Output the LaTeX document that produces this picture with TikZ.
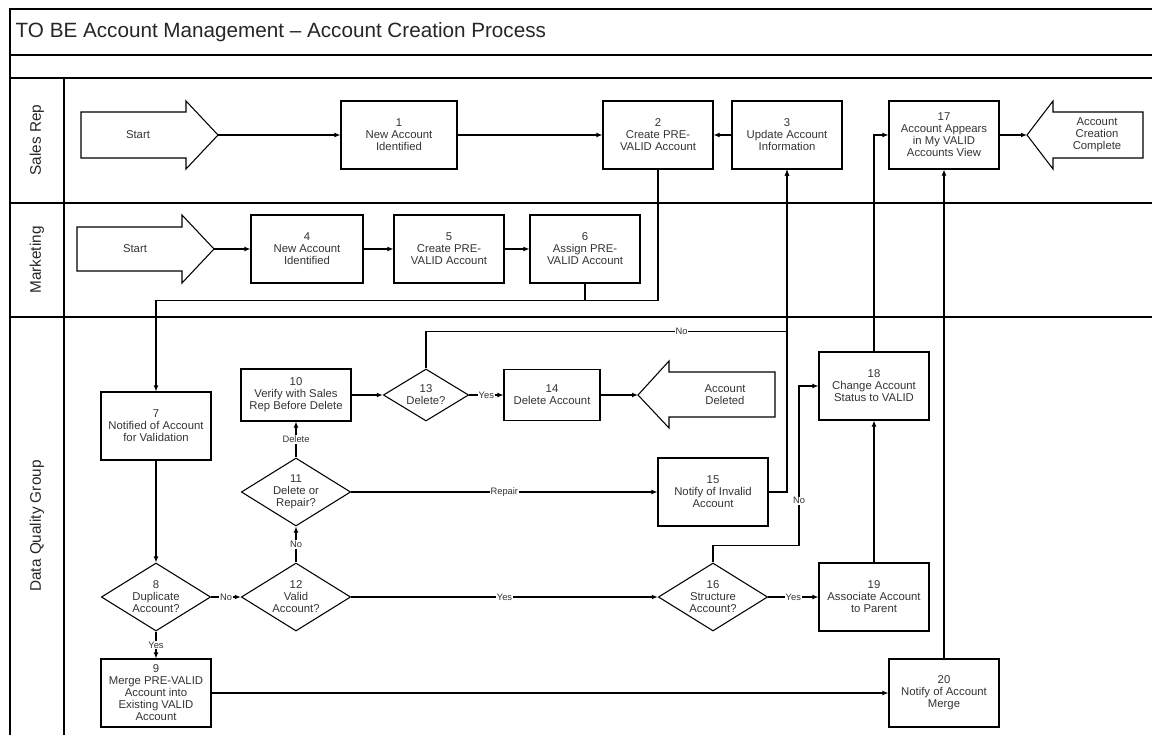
\documentclass[tikz,border=0pt]{standalone}
\usepackage{fontspec}
\setmainfont{Liberation Sans}
\usetikzlibrary{arrows.meta,shapes.geometric}

\begin{document}
\begin{tikzpicture}[x=0.75pt,y=-0.75pt,
  n/.style={rectangle,draw,line width=0.8pt,align=center,minimum width=82.5pt,minimum height=51pt,inner sep=1pt,font=\fontsize{8.5}{9}\selectfont,text=black!80},
  d/.style={diamond,draw,line width=0.8pt,align=center,aspect=1.6,minimum width=82pt,minimum height=51pt,inner sep=0pt,font=\fontsize{8.5}{9}\selectfont,text=black!80},
  e/.style={draw,line width=0.8pt,-{Latex[length=4.5pt,width=3.6pt]}},
  t/.style={fill=white,inner sep=0.6pt,font=\fontsize{7}{7}\selectfont,text=black!80},
  b/.style={draw,line width=0.8pt,line join=miter},
  bt/.style={align=center,font=\fontsize{8.5}{9}\selectfont,text=black!80},
  lane/.style={rotate=90,font=\fontsize{11.5}{13}\selectfont,text=black!85}]

\useasboundingbox (0,0) rectangle (1152,735);

% frame and lanes
\draw[line width=1pt] (10,735) -- (10,9) -- (1152,9);
\foreach \y in {55,78,203,317} \draw[line width=1pt] (10,\y) -- (1152,\y);
\draw[line width=1pt] (64,78) -- (64,735);

\node[anchor=west,font=\fontsize{15.5}{18}\selectfont,text=black!85] (title) at (11,32) {TO BE Account Management \textendash{} Account Creation Process};
\node[lane] (laneS) at (37,140) {Sales Rep};
\node[lane] (laneM) at (37,260) {Marketing};
\node[lane] (laneD) at (37,526) {Data Quality Group};

% block arrows
\draw[b] (81,112) -- (186,112) -- (186,101) -- (218,135) -- (186,169) -- (186,158) -- (81,158) -- cycle;
\node[bt] (startS) at (138,135) {Start};
\coordinate (startSt) at (218,135);
\draw[b] (77,227) -- (182,227) -- (182,215) -- (214,249) -- (182,283) -- (182,271) -- (77,271) -- cycle;
\node[bt] (startM) at (135,249) {Start};
\coordinate (startMt) at (214,249);
\draw[b] (1027,135) -- (1053,101) -- (1053,112) -- (1143,112) -- (1143,158) -- (1053,158) -- (1053,169) -- cycle;
\node[bt] (done) at (1097,135) {Account\\Creation\\Complete};
\coordinate (doneT) at (1027,135);
\draw[b] (638,395) -- (669,361) -- (669,372) -- (775,372) -- (775,417) -- (669,417) -- (669,428) -- cycle;
\node[bt] (deleted) at (725,395) {Account\\Deleted};
\coordinate (delT) at (638,395);

% Sales Rep
\node[n,minimum width=87pt] (n1) at (399,135) {1\\New Account\\Identified};
\node[n] (n2) at (658,135) {2\\Create PRE-\\VALID Account};
\node[n] (n3) at (787,135) {3\\Update Account\\Information};
\node[n] (n17) at (944,135) {17\\Account Appears\\in My VALID\\Accounts View};

% Marketing
\node[n,minimum width=84pt] (n4) at (307,249) {4\\New Account\\Identified};
\node[n] (n5) at (449,249) {5\\Create PRE-\\VALID Account};
\node[n] (n6) at (585,249) {6\\Assign PRE-\\VALID Account};

% Data Quality Group
\node[n] (n7) at (156,426) {7\\Notified of Account\\for Validation};
\node[n,minimum height=39pt] (n10) at (296,395) {10\\Verify with Sales\\Rep Before Delete};
\node[d] (n11) at (296,492) {11\\Delete or\\Repair?};
\node[d] (n8) at (156,597) {8\\Duplicate\\Account?};
\node[d] (n12) at (296,597) {12\\Valid\\Account?};
\node[d,minimum width=64pt,minimum height=39pt] (n13) at (426,395) {13\\Delete?};
\node[n,minimum width=72pt,minimum height=38pt] (n14) at (552,395) {14\\Delete Account};
\node[n] (n15) at (713,492) {15\\Notify of Invalid\\Account};
\node[n] (n18) at (874,386) {18\\Change Account\\Status to VALID};
\node[d] (n16) at (713,597) {16\\Structure\\Account?};
\node[n] (n19) at (874,597) {19\\Associate Account\\to Parent};
\node[n] (n9) at (156,693) {9\\Merge PRE-VALID\\Account into\\Existing VALID\\Account};
\node[n] (n20) at (944,693) {20\\Notify of Account\\Merge};

% connectors
\path[e] (startSt) -- (n1);
\path[e] (n1) -- (n2);
\path[e] (n3) -- (n2);
\path[e] (n17) -- (doneT);
\path[e] (startMt) -- (n4);
\path[e] (n4) -- (n5);
\path[e] (n5) -- (n6);
\path[e] (n2.south) -- ++(0,131) -| (n7.north);
\path[draw,line width=0.8pt] (n6.south) -- ++(0,17);
\path[e] (n7) -- (n8);
\path[e] (n8) -- node[t]{Yes} (n9);
\path[e] (n8) -- node[t]{No} (n12);
\path[e] (n12) -- node[t]{No} (n11);
\path[e] (n11) -- node[t]{Delete} (n10);
\path[e] (n10) -- (n13);
\path[e] (n13) -- node[t]{Yes} (n14);
\path[e] (n14) -- (delT);
\path[e] (n13.north) -- ++(0,-37) -| node[t,pos=0.354]{No} (n3.south);
\path[e] (n15.east) -| (n3.south);
\path[e] (n11) -- node[t]{Repair} (n15);
\path[e] (n12) -- node[t]{Yes} (n16);
\path[e] (n16.north) -- ++(0,-17) -- ++(86,0) |- node[t,pos=0.14]{No} (n18.west);
\path[e] (n16) -- node[t]{Yes} (n19);
\path[e] (n19) -- (n18);
\path[e] (n18.north) |- (n17.west);
\path[e] (n9) -- (n20);
\path[e] (n20) -- (n17);

\end{tikzpicture}
\end{document}
